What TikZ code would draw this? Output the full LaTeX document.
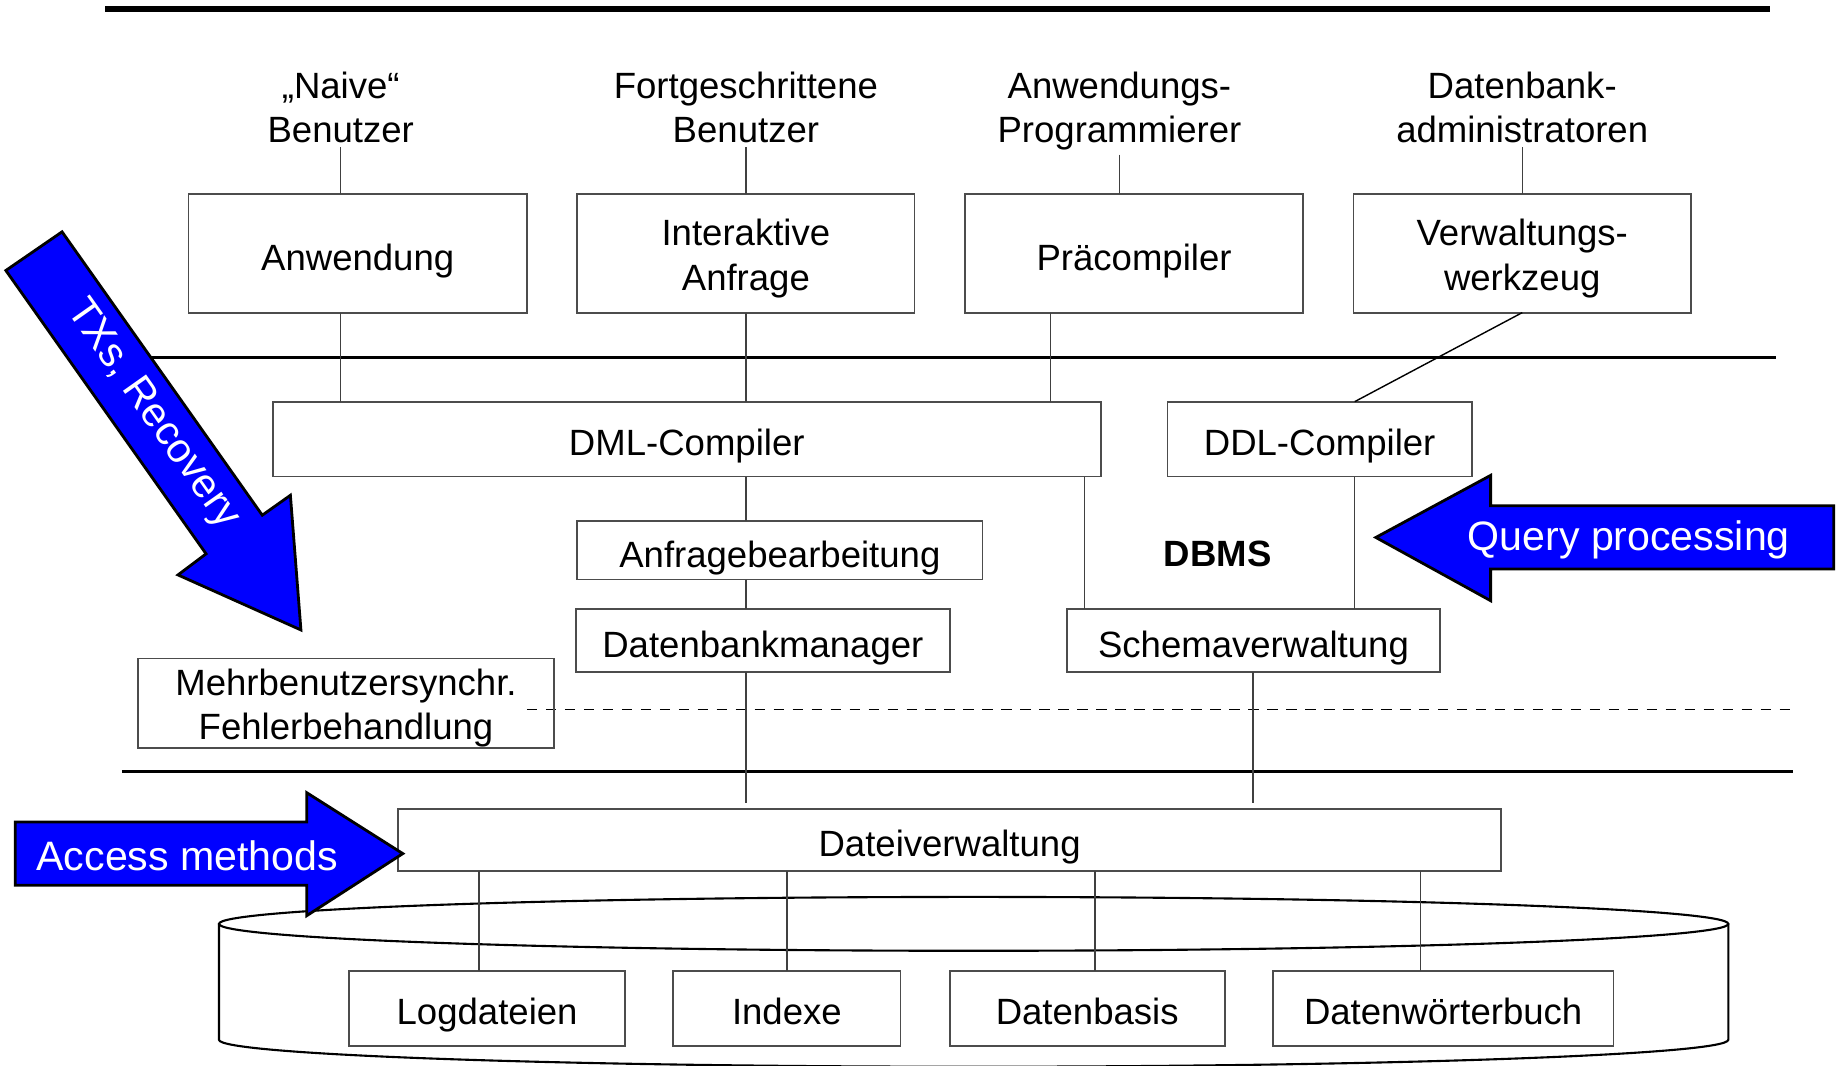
\documentclass[tikz,border=0pt]{standalone}
\usepackage{fontspec}
\setmainfont{Liberation Sans}
\newcommand{\tstrut}{\rule{0pt}{10.5pt}}

\begin{document}
\begin{tikzpicture}[x=0.1171mm,y=-0.1171mm,
    box/.style={draw=black!70,line width=0.5pt,inner sep=0pt,outer sep=0pt,align=center,font=\fontsize{10.4}{12.6}\selectfont,
        execute at begin node={\rule[-2.3pt]{0pt}{14.1pt}}},
    size/.style 2 args={minimum width=#1*0.1171mm,minimum height=#2*0.1171mm},
    lbl/.style={align=center,inner sep=1pt,font=\fontsize{10.4}{12.6}\selectfont},
    con/.style={draw=black!75,line width=0.4pt},
    sep/.style={line width=0.8pt},
    bigarrow/.style={fill=blue,draw=black,line width=0.8pt,line join=miter},
    arrowtext/.style={text=white,inner sep=0pt,font=\fontsize{11.7}{14}\selectfont}]
    \useasboundingbox (0,0) rectangle (1568,910);
    \draw[line width=1.7pt] (90,8) -- (1512,8);
    \draw[sep] (104,305) -- (1517,305);
    \draw[sep] (104,659) -- (1531,659);
    \draw[dashed,dash pattern=on 3pt off 2.4pt] (450,606) -- (1531,606);
    \draw[line width=0.6pt] (831.5,789) ellipse [x radius=644.5,y radius=23];
    \draw[line width=0.6pt] (187,789) -- (187,888) arc[start angle=180,end angle=0,x radius=644.5,y radius=23] -- (1476,789);
    \node[lbl] (naive) at (291,92) {„Naive“\\Benutzer};
    \node[lbl] (fortg) at (637,92) {Fortgeschrittene\\Benutzer};
    \node[lbl] (anwprog) at (956,95) {Anwendungs-\\Programmierer};
    \node[lbl] (dbadmin) at (1300,92) {Datenbank-\\administratoren};
    \node[box,size={289}{101}] (anw) at (305.5,216.5) {Anwendung};
    \node[box,size={288}{101}] (interakt) at (637,216.5) {\tstrut Interaktive\\Anfrage};
    \node[box,size={289}{101}] (praec) at (968.5,216.5) {Präcompiler};
    \node[box,size={288}{101}] (verw) at (1300,216.5) {\tstrut Verwaltungs-\\werkzeug};
    \node[box,size={707}{64}] (dml) at (586.5,375) {DML-Compiler};
    \node[box,size={260}{64}] (ddl) at (1127,375) {DDL-Compiler};
    \node[box,size={346}{50}] (anfr) at (666,470) {Anfragebearbeitung};
    \node[box,size={319}{54}] (dbm) at (651.5,547) {Datenbankmanager};
    \node[box,size={319}{54}] (schema) at (1070.5,547) {Schemaverwaltung};
    \node[box,size={355}{75}] (mehr) at (295.5,600.5) {\tstrut Mehrbenutzersynchr.\\Fehlerbehandlung};
    \node[box,size={942}{53}] (datei) at (811,717.5) {Dateiverwaltung};
    \node[box,size={236}{64}] (logd) at (416,861) {Logdateien};
    \node[box,size={194}{64}] (idx) at (672,861) {Indexe};
    \node[box,size={235}{64}] (dbasis) at (928.5,861) {Datenbasis};
    \node[box,size={291}{64}] (dwb) at (1232.5,861) {Datenwörterbuch};
    \node[font=\bfseries\fontsize{10.4}{12.6}\selectfont] (dbms) at (1040,473) {DBMS};
    \coordinate (cPrae) at (897,0);
    \coordinate (cDDL) at (1157,0);
    \coordinate (cDmlS) at (926,0);
    \coordinate (cSchema) at (1070,0);
    \coordinate (cLog) at (409,0);
    \coordinate (cDb) at (935,0);
    \coordinate (cDwb) at (1213,0);
    \draw[con] (naive.south) -- (anw.north -| naive.south);
    \draw[con] (fortg.south) -- (interakt.north);
    \draw[con] (anwprog.south) -- (praec.north -| anwprog.south);
    \draw[con] (dbadmin.south) -- (verw.north);
    \draw[con] (anw.south -| naive.south) -- (dml.north -| naive.south);
    \draw[con] (interakt.south) -- (dml.north -| interakt.south);
    \draw[con] (praec.south -| cPrae) -- (dml.north -| cPrae);
    \draw[con,draw=black] (verw.south) -- (ddl.north -| cDDL);
    \draw[con] (dml.south -| interakt.south) -- (anfr.north -| interakt.south);
    \draw[con] (anfr.south -| interakt.south) -- (dbm.north -| interakt.south);
    \draw[con,shorten >=1.7pt] (dbm.south -| interakt.south) -- (datei.north -| interakt.south);
    \draw[con] (dml.south -| cDmlS) -- (schema.north -| cDmlS);
    \draw[con] (ddl.south -| cDDL) -- (schema.north -| cDDL);
    \draw[con,shorten >=1.7pt] (schema.south -| cSchema) -- (datei.north -| cSchema);
    \draw[con] (datei.south -| cLog) -- (logd.north -| cLog);
    \draw[con] (datei.south -| idx.north) -- (idx.north);
    \draw[con] (datei.south -| cDb) -- (dbasis.north -| cDb);
    \draw[con] (datei.south -| cDwb) -- (dwb.north -| cDwb);
    \draw[bigarrow] (5,231) -- (53,198) -- (224,440) -- (248,423) -- (257,538) -- (152,491) -- (176,473) -- cycle;
    \node[arrowtext,rotate=-54.75] (txs) at (130,354) {TXs, Recovery};
    \draw[bigarrow] (1175,459) -- (1273,406) -- (1273,432) -- (1566,432) -- (1566,486) -- (1273,486) -- (1273,513) -- cycle;
    \node[arrowtext] (query) at (1391,461) {Query processing};
    \draw[bigarrow] (13,702) -- (262,702) -- (262,677) -- (344,729) -- (262,782) -- (262,756) -- (13,756) -- cycle;
    \node[arrowtext] (access) at (160,731) {Access methods};
\end{tikzpicture}
\end{document}
